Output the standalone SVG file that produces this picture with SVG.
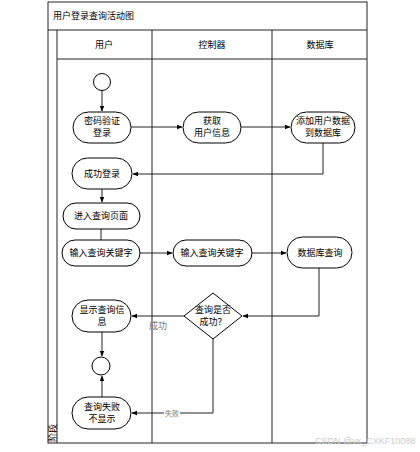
<svg xmlns="http://www.w3.org/2000/svg" width="420" height="452" viewBox="0 0 420 452">
<style>
text{font-family:"Liberation Sans","Noto Sans CJK SC",sans-serif;font-size:9px;fill:#000}
.c{text-anchor:middle}
.frame{fill:none;stroke:#222;stroke-width:1}
.node{fill:#fff;stroke:#000;stroke-width:1}
.edge{fill:none;stroke:#222;stroke-width:1}
.lbl{fill:#777}
</style>
<defs>
<marker id="a" viewBox="0 0 10 10" refX="9" refY="5" markerWidth="6" markerHeight="6" orient="auto"><path d="M0,1 L10,5 L0,9 z" fill="#000"/></marker>
</defs>
<rect width="420" height="452" fill="#fff"/>
<g id="frame">
<rect class="frame" x="48" y="2" width="319" height="441"/>
<line class="frame" x1="48" y1="30" x2="367" y2="30"/>
<line class="frame" x1="57" y1="30" x2="57" y2="443"/>
<line class="frame" x1="57" y1="59" x2="367" y2="59"/>
<line class="frame" x1="152" y1="30" x2="152" y2="443"/>
<line class="frame" x1="272" y1="30" x2="272" y2="443"/>
<text x="53" y="19">用户登录查询活动图</text>
<text class="c" x="104" y="48">用户</text>
<text class="c" x="212" y="48">控制器</text>
<text class="c" x="320" y="48">数据库</text>
<text transform="translate(56,442) rotate(-90)">阶段</text>
</g>
<g id="edges">
<line class="edge" x1="102" y1="90" x2="102" y2="111" marker-end="url(#a)"/>
<line class="edge" x1="131" y1="127" x2="182" y2="127" marker-end="url(#a)"/>
<line class="edge" x1="241" y1="127" x2="290" y2="127" marker-end="url(#a)"/>
<polyline class="edge" points="323,143 323,174 133,174" marker-end="url(#a)"/>
<line class="edge" x1="102" y1="189" x2="102" y2="202" marker-end="url(#a)"/>
<line class="edge" x1="101" y1="229" x2="101" y2="240"/>
<line class="edge" x1="140" y1="253" x2="172" y2="253" marker-end="url(#a)"/>
<line class="edge" x1="252" y1="253" x2="286" y2="253" marker-end="url(#a)"/>
<polyline class="edge" points="319,268 319,316 243,316" marker-end="url(#a)"/>
<line class="edge" x1="184" y1="316" x2="132" y2="316" marker-end="url(#a)"/>
<text class="lbl" x="149" y="329">成功</text>
<line class="edge" x1="102" y1="332" x2="102" y2="356" marker-end="url(#a)"/>
<line class="edge" x1="102" y1="397" x2="102" y2="376" marker-end="url(#a)"/>
<polyline class="edge" points="213,338 213,413 132,413" marker-end="url(#a)"/>
<rect x="164" y="408" width="16" height="9" fill="#fff"/>
<text class="lbl c" x="172" y="416" style="font-size:7px">失败</text>
</g>
<g id="start"><circle class="node" cx="102" cy="82" r="8.5"/></g>
<g id="n1"><rect class="node" x="73" y="112" width="58" height="31" rx="15.5"/><text class="c" x="102" y="124">密码验证</text><text class="c" x="102" y="136">登录</text></g>
<g id="n2"><rect class="node" x="183" y="112" width="58" height="31" rx="15.5"/><text class="c" x="212" y="124">获取</text><text class="c" x="212" y="136">用户信息</text></g>
<g id="n3"><rect class="node" x="291" y="112" width="64" height="31" rx="15.5"/><text class="c" x="323" y="124">添加用户数据</text><text class="c" x="323" y="136">到数据库</text></g>
<g id="n4"><rect class="node" x="72" y="158" width="60" height="31" rx="15.5"/><text class="c" x="102" y="177">成功登录</text></g>
<g id="n5"><rect class="node" x="63" y="203" width="77" height="26" rx="13"/><text class="c" x="101" y="219">进入查询页面</text></g>
<g id="n6"><rect class="node" x="62" y="240" width="78" height="26" rx="13"/><text class="c" x="101" y="256">输入查询关键字</text></g>
<g id="n7"><rect class="node" x="173" y="240" width="79" height="26" rx="13"/><text class="c" x="212" y="256">输入查询关键字</text></g>
<g id="n8"><rect class="node" x="287" y="237" width="65" height="31" rx="15.5"/><text class="c" x="320" y="256">数据库查询</text></g>
<g id="d1"><polygon class="node" points="213,293 242,316 213,339 184,316"/><text class="c" x="213" y="313">查询是否</text><text class="c" x="213" y="325">成功？</text></g>
<g id="n9"><rect class="node" x="72" y="300" width="59" height="32" rx="16"/><text class="c" x="102" y="313">显示查询信</text><text class="c" x="102" y="325">息</text></g>
<g id="end"><circle class="node" cx="101" cy="366" r="9"/></g>
<g id="n10"><rect class="node" x="72" y="397" width="59" height="32" rx="16"/><text class="c" x="102" y="410">查询失败</text><text class="c" x="102" y="422">不显示</text></g>
<text x="315" y="444" style="font-size:9px;fill:#ccc">CSDN @vx_CXKF10088</text>
</svg>
